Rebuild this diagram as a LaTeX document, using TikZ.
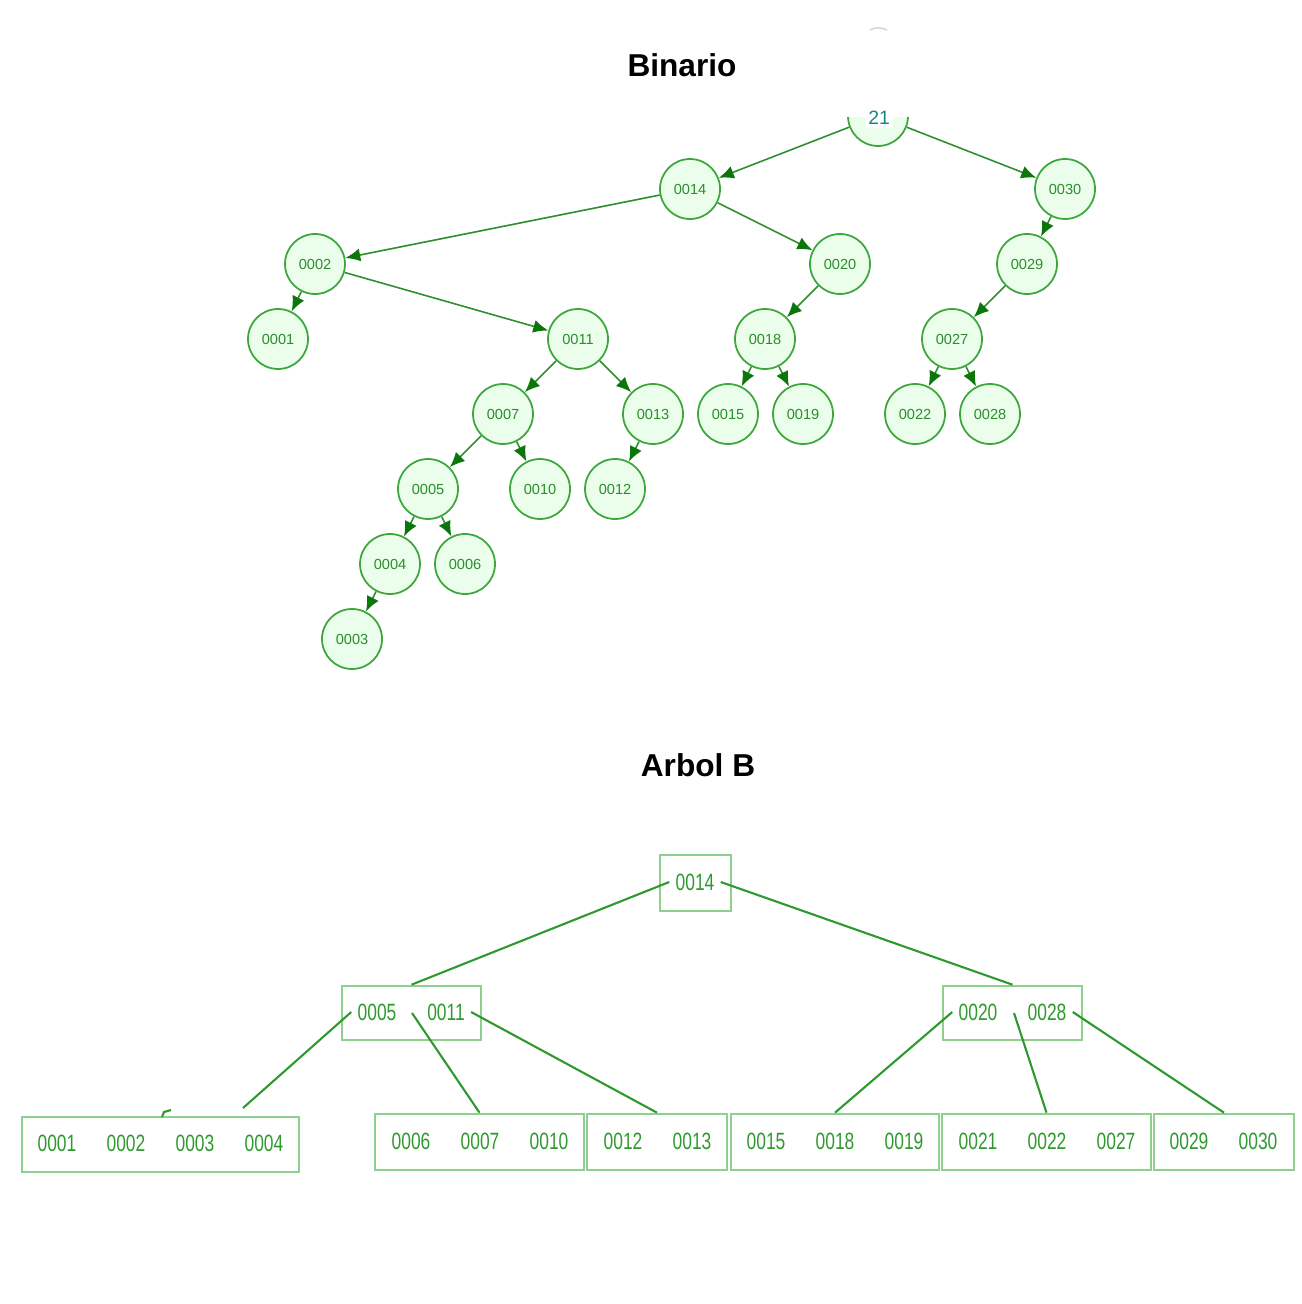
\documentclass[tikz,border=0pt]{standalone}
\usepackage{fontspec}
\setmainfont{Liberation Sans}
\usepackage{graphicx}
\usetikzlibrary{arrows.meta}
\definecolor{cstroke}{HTML}{3DA63D}
\definecolor{cfill}{HTML}{EBFDEB}
\definecolor{ctext}{HTML}{2A8F2A}
\definecolor{cedge}{HTML}{2D8F2D}
\definecolor{carrow}{HTML}{0B770B}
\definecolor{cteal}{HTML}{1B8585}
\definecolor{bline}{HTML}{8FCF8F}
\definecolor{bkeyc}{HTML}{2E9A2E}
\newcommand{\keytxt}[1]{\scalebox{0.74}[1]{#1}}
\tikzset{
  bnode/.style={circle,draw=cstroke,fill=cfill,line width=1pt,minimum size=12mm,inner sep=0pt,text=ctext,font=\fontsize{8.3}{9}\selectfont},
  edge/.style={cedge,line width=0.9pt,-{Latex[length=3mm,width=2.6mm,color=carrow]}},
  title/.style={font=\bfseries\fontsize{18}{20}\selectfont},
  bbox/.style={draw=bline,line width=1.5pt,inner sep=0pt,minimum height=11.2mm},
  bkey/.style={text=bkeyc,inner sep=1.2mm,font=\fontsize{13.4}{14}\selectfont},
  bedge/.style={bkeyc,line width=1.2pt}
}

\begin{document}
\begin{tikzpicture}[x=0.2mm,y=-0.2mm]
\useasboundingbox (0,0) rectangle (1301,1304);

% Binario
\node[title] (tbin) at (682,65){Binario};
\draw[gray!35,line width=0.8pt] (870,30) .. controls (878,27) .. (887,30);
\node[bnode] (n21) at (878,116){};
\fill[white] (838,78) rectangle (918,117);
\node[fill=white,text=cteal,inner sep=2pt,font=\fontsize{11}{12}\selectfont] (l21) at (879,118){21};
\foreach \nm/\x/\y in {0014/690/189, 0030/1065/189, 0002/315/264, 0020/840/264,
  0029/1027/264, 0001/278/339, 0011/578/339, 0018/765/339, 0027/952/339,
  0007/503/414, 0013/653/414, 0015/728/414, 0019/803/414, 0022/915/414,
  0028/990/414, 0005/428/489, 0010/540/489, 0012/615/489, 0004/390/564,
  0006/465/564, 0003/352/639}
  {\node[bnode] (n\nm) at (\x,\y){\nm};}
\foreach \a/\b in {21/0014, 21/0030, 0014/0002, 0014/0020, 0030/0029,
  0002/0001, 0002/0011, 0020/0018, 0029/0027, 0011/0007, 0011/0013,
  0018/0015, 0018/0019, 0027/0022, 0027/0028, 0007/0005, 0007/0010,
  0013/0012, 0005/0004, 0005/0006, 0004/0003}
  {\draw[edge] (n\a) -- (n\b);}

% Arbol B
\node[title] (tarb) at (698,765){Arbol B};
\node[bbox,minimum width=14.2mm] (broot) at (695.5,883){};
\node[bbox,minimum width=27.8mm,minimum height=10.8mm] (bl) at (411.5,1013){};
\node[bbox,minimum width=27.8mm,minimum height=10.8mm] (br) at (1012.5,1013){};
\node[bbox,minimum width=55.4mm,minimum height=11mm] (leaf1) at (160.5,1144.5){};
\node[bbox,minimum width=41.8mm] (leaf2) at (479.5,1142){};
\node[bbox,minimum width=28mm] (leaf3) at (657,1142){};
\node[bbox,minimum width=41.6mm] (leaf4) at (835,1142){};
\node[bbox,minimum width=41.8mm] (leaf5) at (1046.5,1142){};
\node[bbox,minimum width=28mm] (leaf6) at (1224,1142){};
\foreach \k/\x/\y in {0014/695/882, 0005/377/1012, 0011/446/1012,
  0020/978/1012, 0028/1047/1012, 0001/57/1143, 0002/126/1143, 0003/195/1143,
  0004/264/1143, 0006/411/1141, 0007/480/1141, 0010/549/1141, 0012/623/1141,
  0013/692/1141, 0015/766/1141, 0018/835/1141, 0019/904/1141, 0021/978/1141,
  0022/1047/1141, 0027/1116/1141, 0029/1189/1141, 0030/1258/1141}
  {\node[bkey] (k\k) at (\x,\y){\keytxt{\k}};}
\coordinate (pm1) at (412,1013);
\coordinate (pm2) at (1014,1013);
\coordinate (p1) at (243,1108);
\draw[bedge] (k0014.west) -- (bl.north);
\draw[bedge] (k0014.east) -- (br.north);
\draw[bedge] (k0005.west) -- (p1);
\draw[bedge] (162,1117) -- (164,1112) -- (171,1110);
\draw[bedge] (pm1) -- (leaf2.north);
\draw[bedge] (k0011.east) -- (leaf3.north);
\draw[bedge] (k0020.west) -- (leaf4.north);
\draw[bedge] (pm2) -- (leaf5.north);
\draw[bedge] (k0028.east) -- (leaf6.north);
\end{tikzpicture}
\end{document}
